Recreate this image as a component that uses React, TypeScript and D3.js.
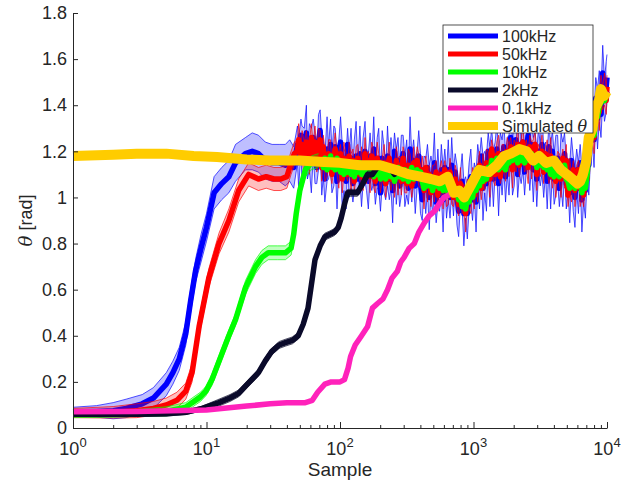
import React, { useEffect, useRef } from 'react';
import * as d3 from 'd3';

// sample positions of the noisy tail, fine grid (100kHz, 50kHz, 10kHz)
const fineX = [
  48, 49, 51, 52, 54, 56, 57, 59, 61, 63,
  65, 67, 69, 71, 73, 75, 77, 80, 82, 85,
  87, 90, 92, 95, 98, 101, 104, 107, 111, 114,
  117, 121, 125, 128, 132, 136, 141, 145, 149, 154,
  158, 163, 168, 173, 179, 184, 190, 195, 201, 207,
  214, 220, 227, 234, 241, 248, 256, 264, 272, 280,
  288, 297, 306, 316, 325, 335, 345, 356, 366, 378,
  389, 401, 413, 426, 439, 452, 466, 480, 494, 509,
  525, 541, 557, 574, 592, 610, 628, 647, 667, 687,
  708, 729, 752, 774, 798, 822, 847, 873, 899, 927,
  955, 984, 1014, 1045, 1076, 1109, 1143, 1178, 1213, 1250,
  1288, 1327, 1368, 1409, 1452, 1496, 1542, 1589, 1637, 1687,
  1738, 1791, 1845, 1901, 1959, 2018, 2080, 2143, 2208, 2275,
  2344, 2415, 2489, 2565, 2642, 2723, 2805, 2891, 2979, 3069,
  3162, 3258, 3357, 3459, 3565, 3673, 3784, 3899, 4018, 4140,
  4266, 4395, 4529, 4667, 4808, 4955, 5105, 5260, 5420, 5585,
  5754, 5929, 6110, 6295, 6486, 6683, 6887, 7096, 7311, 7534,
  7762, 7998, 8241, 8492, 8750, 9016, 9290, 9572, 9863, 10000,
];

// coarser grid for the slow series once they join the bundle (2kHz, 0.1kHz)
const coarseX = [
  48, 51, 54, 57, 61, 65, 69, 73, 77, 82,
  87, 92, 98, 104, 111, 117, 125, 132, 141, 149,
  158, 168, 179, 190, 201, 214, 227, 241, 256, 272,
  288, 306, 325, 345, 366, 389, 413, 439, 466, 494,
  525, 557, 592, 628, 667, 708, 752, 798, 847, 899,
  955, 1014, 1076, 1143, 1213, 1288, 1368, 1452, 1542, 1637,
  1738, 1845, 1959, 2080, 2208, 2344, 2489, 2642, 2805, 2979,
  3162, 3357, 3565, 3784, 4018, 4266, 4529, 4808, 5105, 5420,
  5754, 6109, 6486, 6887, 7311, 7762, 8241, 8750, 9290, 9863,
  10000,
];

// 100kHz
const blueX = [1, 1.5, 2, 2.5, 3.3, 4, 5, 5.6, 6.25, 7, 7.6, 8.3, 9.1, 10, 11.4, 13, 14.7, 16.5, 19.6, 22, 24.5, 27.6, 31, 35, 39, 42, 45];
const blueY = [0.07, 0.072, 0.075, 0.085, 0.105, 0.13, 0.19, 0.24, 0.3, 0.41, 0.55, 0.685, 0.78, 0.87, 1.02, 1.06, 1.09, 1.15, 1.19, 1.2, 1.19, 1.16, 1.15, 1.15, 1.14, 1.16, 1.13];
const blueErr = [0.02, 0.025, 0.035, 0.04, 0.04, 0.045, 0.05, 0.05, 0.05, 0.05, 0.05, 0.05, 0.06, 0.06, 0.07, 0.07, 0.07, 0.08, 0.07, 0.08, 0.08, 0.08, 0.08, 0.08, 0.09, 0.09, 0.09];
const blueNoiseY = [
  1.23, 1.15, 1.27, 1.18, 1.21, 1.28, 1.14, 1.22, 1.16, 1.26,
  1.17, 1.13, 1.24, 1.29, 1.14, 1.17, 1.08, 1.21, 1.15, 1.23,
  1.11, 1.18, 1.22, 1.07, 1.19, 1.24, 1.09, 1.12, 1.07, 1.23,
  1.1, 1.17, 1.06, 1.14, 1.18, 1.08, 1.19, 1.05, 1.16, 1.2,
  1.11, 1.07, 1.18, 1.1, 1.21, 1.06, 1.15, 1.17, 1.02, 1.17,
  1.12, 1.06, 1.18, 1.08, 1.15, 1.03, 1.2, 1.09, 1.16, 1.05,
  1.14, 1.19, 1.07, 1.13, 1.04, 1.21, 1.08, 1.16, 1.05, 1.12,
  1.18, 1.06, 0.99, 1.11, 1.05, 1.13, 1.0, 1.1, 1.03, 1.15,
  0.98, 1.09, 1.01, 1.12, 0.99, 1.13, 1.01, 1.12, 1.0, 1.14,
  1.02, 1.11, 1.01, 0.94, 1.04, 1.07, 0.93, 1.0, 0.93, 1.05,
  1.09, 0.99, 1.08, 0.98, 1.13, 1.06, 1.18, 1.04, 1.11, 1.06,
  1.2, 1.09, 1.2, 1.08, 1.17, 1.21, 1.06, 1.19, 1.13, 1.22,
  1.09, 1.18, 1.14, 1.26, 1.13, 1.19, 1.25, 1.1, 1.23, 1.15,
  1.24, 1.11, 1.2, 1.27, 1.14, 1.23, 1.12, 1.21, 1.08, 1.2,
  1.14, 1.23, 1.11, 1.17, 1.07, 1.22, 1.09, 1.2, 1.08, 1.14,
  1.17, 1.04, 1.16, 1.1, 1.19, 1.06, 1.1, 1.02, 1.16, 1.06,
  1.0, 1.12, 1.04, 1.15, 0.99, 1.08, 1.03, 1.17, 1.14, 1.28,
  1.34, 1.25, 1.43, 1.34, 1.44, 1.36, 1.54, 1.42, 1.48, 1.52,
];
const blueNoiseErr = [
  0.08, 0.11, 0.07, 0.13, 0.09, 0.12, 0.06, 0.1, 0.14, 0.08,
  0.11, 0.07, 0.12, 0.09, 0.13, 0.08, 0.1, 0.14, 0.07, 0.11,
  0.09, 0.13, 0.08, 0.12, 0.06, 0.11, 0.14, 0.09, 0.12, 0.07,
  0.1, 0.13, 0.08, 0.11, 0.15, 0.07, 0.12, 0.09, 0.1, 0.13,
  0.08, 0.12, 0.1, 0.07, 0.14, 0.09, 0.11, 0.13, 0.08, 0.12,
  0.1, 0.07, 0.13, 0.09, 0.11, 0.14, 0.08, 0.12, 0.1, 0.09,
  0.13, 0.08, 0.11, 0.12, 0.07, 0.14, 0.1, 0.09, 0.12, 0.08,
  0.11, 0.13, 0.09, 0.07, 0.12, 0.1, 0.14, 0.08, 0.11, 0.13,
  0.09, 0.12, 0.07, 0.11, 0.14, 0.08, 0.1, 0.13, 0.09, 0.12,
  0.1, 0.08, 0.13, 0.11, 0.07, 0.12, 0.14, 0.09, 0.11, 0.1,
  0.12, 0.09, 0.07, 0.13, 0.1, 0.11, 0.08, 0.14, 0.09, 0.12,
  0.08, 0.13, 0.1, 0.12, 0.07, 0.11, 0.14, 0.09, 0.12, 0.1,
  0.11, 0.08, 0.13, 0.09, 0.12, 0.14, 0.07, 0.1, 0.13, 0.09,
  0.12, 0.1, 0.08, 0.13, 0.11, 0.09, 0.14, 0.08, 0.12, 0.1,
  0.09, 0.13, 0.11, 0.07, 0.12, 0.1, 0.14, 0.09, 0.11, 0.13,
  0.1, 0.08, 0.12, 0.14, 0.09, 0.11, 0.07, 0.13, 0.1, 0.12,
  0.13, 0.09, 0.11, 0.08, 0.14, 0.1, 0.12, 0.09, 0.13, 0.11,
  0.1, 0.12, 0.09, 0.13, 0.11, 0.1, 0.12, 0.09, 0.11, 0.1,
];

// 50kHz
const redX = [1, 2, 3, 4, 5, 6, 7, 7.8, 8.8, 10.4, 12.4, 14.7, 17.4, 20.7, 24.5, 28, 32, 36, 40, 43, 45.5];
const redY = [0.065, 0.068, 0.075, 0.085, 0.1, 0.12, 0.16, 0.24, 0.44, 0.65, 0.8, 0.9, 1.03, 1.1, 1.08, 1.09, 1.08, 1.08, 1.09, 1.15, 1.19];
const redErr = [0.02, 0.025, 0.03, 0.03, 0.03, 0.035, 0.035, 0.04, 0.04, 0.04, 0.045, 0.05, 0.05, 0.05, 0.05, 0.05, 0.05, 0.05, 0.05, 0.05, 0.05];
const redNoiseY = [
  1.2, 1.25, 1.18, 1.23, 1.16, 1.24, 1.22, 1.17, 1.26, 1.19,
  1.24, 1.16, 1.22, 1.25, 1.13, 1.22, 1.14, 1.12, 1.19, 1.17,
  1.1, 1.18, 1.21, 1.15, 1.12, 1.19, 1.08, 1.17, 1.14, 1.1,
  1.18, 1.11, 1.16, 1.07, 1.15, 1.17, 1.1, 1.14, 1.08, 1.19,
  1.11, 1.16, 1.09, 1.18, 1.12, 1.07, 1.17, 1.15, 1.08, 1.12,
  1.15, 1.06, 1.13, 1.17, 1.08, 1.12, 1.07, 1.16, 1.09, 1.14,
  1.07, 1.17, 1.1, 1.06, 1.14, 1.13, 1.05, 1.15, 1.09, 1.16,
  1.12, 1.08, 1.12, 1.03, 1.13, 1.05, 1.1, 1.02, 1.09, 1.06,
  1.11, 1.01, 1.09, 1.1, 1.03, 1.12, 1.03, 1.02, 1.11, 1.04,
  1.0, 1.08, 1.03, 0.97, 1.06, 0.96, 1.0, 0.93, 1.03, 1.01,
  1.0, 1.08, 1.01, 1.09, 1.06, 1.14, 1.04, 1.12, 1.07, 1.15,
  1.14, 1.08, 1.21, 1.14, 1.1, 1.18, 1.19, 1.09, 1.16, 1.18,
  1.12, 1.2, 1.16, 1.22, 1.12, 1.2, 1.17, 1.23, 1.14, 1.21,
  1.24, 1.15, 1.19, 1.13, 1.22, 1.16, 1.21, 1.23, 1.1, 1.18,
  1.15, 1.2, 1.11, 1.19, 1.18, 1.12, 1.18, 1.09, 1.13, 1.07,
  1.15, 1.13, 1.08, 1.17, 1.1, 1.16, 1.01, 1.09, 1.04, 1.12,
  1.03, 1.09, 1.12, 1.04, 1.06, 1.01, 1.11, 1.08, 1.28, 1.24,
  1.31, 1.26, 1.37, 1.42, 1.37, 1.47, 1.43, 1.47, 1.42, 1.48,
];
const redNoiseErr = [
  0.05, 0.07, 0.04, 0.06, 0.08, 0.05, 0.03, 0.07, 0.06, 0.04,
  0.07, 0.05, 0.08, 0.04, 0.06, 0.05, 0.07, 0.03, 0.06, 0.08,
  0.04, 0.06, 0.07, 0.05, 0.08, 0.04, 0.06, 0.07, 0.05, 0.03,
  0.06, 0.08, 0.05, 0.04, 0.07, 0.06, 0.03, 0.08, 0.05, 0.07,
  0.05, 0.04, 0.07, 0.06, 0.08, 0.05, 0.07, 0.04, 0.06, 0.05,
  0.08, 0.06, 0.04, 0.07, 0.05, 0.03, 0.07, 0.06, 0.08, 0.04,
  0.06, 0.05, 0.08, 0.04, 0.07, 0.06, 0.05, 0.07, 0.03, 0.06,
  0.07, 0.04, 0.06, 0.08, 0.05, 0.07, 0.04, 0.06, 0.05, 0.08,
  0.05, 0.07, 0.03, 0.06, 0.08, 0.04, 0.07, 0.05, 0.06, 0.07,
  0.04, 0.06, 0.08, 0.05, 0.07, 0.03, 0.06, 0.08, 0.05, 0.06,
  0.07, 0.05, 0.06, 0.04, 0.08, 0.06, 0.05, 0.07, 0.04, 0.06,
  0.06, 0.08, 0.04, 0.07, 0.05, 0.06, 0.08, 0.03, 0.07, 0.05,
  0.05, 0.06, 0.07, 0.04, 0.08, 0.05, 0.06, 0.07, 0.05, 0.04,
  0.08, 0.04, 0.06, 0.07, 0.05, 0.08, 0.04, 0.06, 0.07, 0.05,
  0.06, 0.07, 0.05, 0.03, 0.07, 0.06, 0.08, 0.05, 0.04, 0.07,
  0.05, 0.06, 0.08, 0.04, 0.06, 0.07, 0.05, 0.08, 0.06, 0.04,
  0.07, 0.05, 0.04, 0.08, 0.06, 0.05, 0.07, 0.04, 0.08, 0.06,
  0.05, 0.07, 0.06, 0.05, 0.08, 0.06, 0.05, 0.07, 0.06, 0.05,
];

// 10kHz
const greenX = [1, 2, 3, 5, 7, 7.8, 9, 9.9, 11, 13, 14.7, 16.5, 19.6, 23.3, 26, 29, 34, 39, 43, 45, 47, 50, 55, 61, 69];
const greenY = [0.06, 0.062, 0.065, 0.072, 0.09, 0.11, 0.135, 0.16, 0.21, 0.32, 0.4, 0.47, 0.61, 0.7, 0.74, 0.76, 0.76, 0.76, 0.78, 0.84, 0.93, 1.03, 1.12, 1.15, 1.16];
const greenErr = [0.015, 0.015, 0.015, 0.02, 0.02, 0.02, 0.02, 0.02, 0.025, 0.025, 0.025, 0.025, 0.03, 0.03, 0.03, 0.03, 0.03, 0.03, 0.03, 0.03, 0.03, 0.03, 0.03, 0.03, 0.03];
// from fineX[14] onwards
const greenNoiseY = [
  1.16, 1.13, 1.17, 1.12, 1.15, 1.18,
  1.13, 1.16, 1.12, 1.17, 1.14, 1.11, 1.13, 1.1, 1.14, 1.11,
  1.15, 1.1, 1.13, 1.09, 1.14, 1.11, 1.15, 1.1, 1.12, 1.09,
  1.13, 1.1, 1.14, 1.11, 1.09, 1.13, 1.1, 1.14, 1.08, 1.11,
  1.12, 1.08, 1.11, 1.13, 1.09, 1.12, 1.07, 1.1, 1.13, 1.09,
  1.11, 1.08, 1.12, 1.09, 1.07, 1.11, 1.13, 1.08, 1.1, 1.12,
  1.09, 1.11, 1.07, 1.04, 1.08, 1.05, 1.09, 1.06, 1.03, 1.07,
  1.05, 1.08, 1.04, 1.07, 1.03, 1.06, 1.05, 1.02, 1.06, 1.03,
  1.05, 1.02, 1.03, 0.99, 1.01, 0.96, 0.99, 0.95, 1.0, 0.98,
  1.03, 1.0, 1.06, 1.03, 1.08, 1.05, 1.1, 1.07, 1.11, 1.08,
  1.13, 1.1, 1.16, 1.12, 1.15, 1.17, 1.12, 1.16, 1.13, 1.17,
  1.12, 1.16, 1.15, 1.19, 1.16, 1.18, 1.2, 1.15, 1.19, 1.16,
  1.19, 1.15, 1.18, 1.2, 1.16, 1.19, 1.15, 1.18, 1.13, 1.16,
  1.14, 1.17, 1.13, 1.16, 1.12, 1.16, 1.1, 1.13, 1.09, 1.12,
  1.13, 1.09, 1.12, 1.1, 1.14, 1.08, 1.07, 1.04, 1.08, 1.05,
  1.04, 1.07, 1.05, 1.08, 1.02, 1.06, 1.04, 1.1, 1.2, 1.25,
  1.28, 1.27, 1.36, 1.35, 1.4, 1.41, 1.46, 1.42, 1.44, 1.45,
];

// 2kHz
const blackX = [1, 3, 5, 7, 9.3, 12.4, 15, 17.4, 21, 24.5, 27.5, 30.6, 35, 39, 44, 48.6, 53, 57.6, 61, 65, 71, 77, 84, 91, 97, 102, 108, 114, 125, 135, 148, 161, 175];
const blackY = [0.06, 0.06, 0.062, 0.068, 0.085, 0.11, 0.13, 0.15, 0.2, 0.24, 0.29, 0.33, 0.36, 0.37, 0.38, 0.4, 0.45, 0.52, 0.62, 0.73, 0.79, 0.83, 0.84, 0.85, 0.87, 0.91, 0.97, 1.02, 1.02, 1.02, 1.06, 1.1, 1.1];
const blackErr = [0.01, 0.01, 0.01, 0.01, 0.01, 0.015, 0.015, 0.015, 0.015, 0.015, 0.015, 0.015, 0.015, 0.015, 0.015, 0.015, 0.015, 0.015, 0.015, 0.015, 0.015, 0.015, 0.015, 0.015, 0.015, 0.015, 0.015, 0.015, 0.015, 0.015, 0.015, 0.015, 0.015];
// from coarseX[23] onwards, mostly hidden under the simulated curve
const blackNoiseY = [
  1.13, 1.14, 1.13, 1.13, 1.12, 1.1, 1.115,
  1.11, 1.105, 1.1, 1.1, 1.095, 1.09, 1.09, 1.085, 1.08, 1.08,
  1.075, 1.07, 1.08, 1.075, 1.07, 1.025, 1.025, 1.02, 1.0, 1.025,
  1.05, 1.08, 1.11, 1.12, 1.115, 1.11, 1.12, 1.13, 1.15, 1.17,
  1.18, 1.19, 1.195, 1.2, 1.21, 1.205, 1.2, 1.18, 1.16, 1.17,
  1.175, 1.16, 1.15, 1.155, 1.16, 1.14, 1.12, 1.11, 1.1, 1.085,
  1.07, 1.06, 1.08, 1.14, 1.26, 1.3, 1.39, 1.42, 1.46, 1.45,
  1.46,
];

// 0.1kHz
const pinkX = [1, 3, 10, 20, 30, 40, 55, 62, 68, 77, 86, 100, 108, 115, 120, 130, 145, 161, 175, 191, 210, 227, 245, 269, 285, 302, 330, 360, 390, 428, 465, 509, 550, 600, 650, 712];
const pinkY = [0.07, 0.072, 0.078, 0.095, 0.105, 0.11, 0.11, 0.12, 0.155, 0.19, 0.2, 0.2, 0.21, 0.26, 0.31, 0.36, 0.4, 0.44, 0.52, 0.54, 0.56, 0.6, 0.65, 0.68, 0.72, 0.74, 0.78, 0.8, 0.85, 0.89, 0.92, 0.94, 0.97, 1.0, 1.01, 1.02];
// from coarseX[46] onwards, hidden under the simulated curve
const pinkNoiseY = [
  1.025, 1.02, 1.0, 1.025,
  1.05, 1.08, 1.11, 1.12, 1.115, 1.11, 1.12, 1.13, 1.15, 1.17,
  1.18, 1.19, 1.195, 1.2, 1.21, 1.205, 1.2, 1.18, 1.16, 1.17,
  1.175, 1.16, 1.15, 1.155, 1.16, 1.14, 1.12, 1.11, 1.1, 1.085,
  1.07, 1.06, 1.08, 1.14, 1.26, 1.3, 1.39, 1.42, 1.46, 1.45,
  1.46,
];

// Simulated theta
const simX = [1, 2, 3, 5, 8, 12, 20, 30, 50, 70, 100, 140, 200, 260, 330, 400, 480, 560, 640, 712, 780, 850, 950, 1100, 1300, 1500, 1700, 1900, 2200, 2500, 2800, 3100, 3500, 4000, 4500, 5000, 5500, 6000, 6300, 6600, 7000, 7300, 7800, 8200, 8700, 9000, 9500, 10000];
const simY = [1.18, 1.185, 1.19, 1.19, 1.18, 1.175, 1.165, 1.16, 1.16, 1.155, 1.15, 1.14, 1.14, 1.12, 1.1, 1.09, 1.08, 1.07, 1.09, 1.02, 1.03, 1.0, 1.05, 1.12, 1.11, 1.14, 1.18, 1.19, 1.21, 1.2, 1.16, 1.18, 1.15, 1.16, 1.12, 1.1, 1.08, 1.06, 1.07, 1.1, 1.16, 1.26, 1.3, 1.39, 1.42, 1.47, 1.44, 1.46];

const yTicks = [0, 0.2, 0.4, 0.6, 0.8, 1, 1.2, 1.4, 1.6, 1.8];
const yTickLabels = ['0', '0.2', '0.4', '0.6', '0.8', '1', '1.2', '1.4', '1.6', '1.8'];
const xDecades = [1, 10, 100, 1000, 10000];
const xExponents = ['0', '1', '2', '3', '4'];

type Series = { name: string; color: string; width: number; x: number[]; y: number[]; err?: number[] };

const series: Series[] = [
  { name: '100kHz', color: '#0000ff', width: 5.5, x: blueX.concat(fineX), y: blueY.concat(blueNoiseY), err: blueErr.concat(blueNoiseErr) },
  { name: '50kHz', color: '#ff0000', width: 5.5, x: redX.concat(fineX), y: redY.concat(redNoiseY), err: redErr.concat(redNoiseErr) },
  { name: '10kHz', color: '#00ff00', width: 5.5, x: greenX.concat(fineX.slice(14)), y: greenY.concat(greenNoiseY), err: greenErr },
  { name: '2kHz', color: '#0a0a2a', width: 5.5, x: blackX.concat(coarseX.slice(23)), y: blackY.concat(blackNoiseY), err: blackErr },
  { name: '0.1kHz', color: '#ff22bb', width: 5.5, x: pinkX.concat(coarseX.slice(46)), y: pinkY.concat(pinkNoiseY) },
  { name: 'Simulated', color: '#ffcc00', width: 10, x: simX, y: simY },
];

const FONT = "'Liberation Sans', Arial, Helvetica, sans-serif";
const INK = '#262626';

const App = () => {
  const ref = useRef<SVGSVGElement>(null);

  useEffect(() => {
    const width = 635, height = 484;
    const margin = { top: 13, right: 28, bottom: 56, left: 73 };
    const svg = d3.select(ref.current);
    svg.selectAll('*').remove();

    svg.append('rect').attr('width', width).attr('height', height).attr('fill', '#fff');

    const x = d3.scaleLog().domain([1, 1e4]).range([margin.left, width - margin.right]);
    const y = d3.scaleLinear().domain([0, 1.8]).range([height - margin.bottom, margin.top]);

    series.forEach((s) => {
      const pts = s.x
        .map((xv, i) => ({ x: xv, y: s.y[i], e: s.err ? s.err[i] : undefined }))
        .filter((p) => typeof p.y === 'number');
      if (s.err) {
        const band = pts.filter((p) => p.e !== undefined);
        const area = d3.area<any>().x((d) => x(d.x)).y0((d) => y(d.y - d.e)).y1((d) => y(d.y + d.e));
        svg.append('path').attr('d', area(band)).attr('fill', s.color).attr('fill-opacity', 0.25);
        const up = d3.line<any>().x((d) => x(d.x)).y((d) => y(d.y + d.e));
        const lo = d3.line<any>().x((d) => x(d.x)).y((d) => y(d.y - d.e));
        [up, lo].forEach((g) =>
          svg.append('path').attr('d', g(band)).attr('fill', 'none')
            .attr('stroke', s.color).attr('stroke-opacity', 0.75).attr('stroke-width', 0.9));
      }
      const line = d3.line<any>().x((d) => x(d.x)).y((d) => y(d.y));
      svg.append('path').attr('d', line(pts)).attr('fill', 'none')
        .attr('stroke', s.color).attr('stroke-width', s.width)
        .attr('stroke-linejoin', 'round').attr('stroke-linecap', 'butt');
    });

    // x axis
    const minor = x.ticks().filter((t) => !xDecades.includes(t));
    const gx = svg.append('g').attr('transform', `translate(0,${y(0)})`)
      .call(d3.axisBottom(x).tickValues(xDecades).tickSize(-6).tickSizeOuter(0).tickFormat(() => ''));
    svg.append('g').attr('transform', `translate(0,${y(0)})`)
      .call(d3.axisBottom(x).tickValues(minor).tickSize(-3).tickSizeOuter(0).tickFormat(() => ''))
      .call((g) => g.select('.domain').remove())
      .selectAll('line').attr('stroke', INK);
    gx.selectAll('path,line').attr('stroke', INK);

    xDecades.forEach((d, i) => {
      const t = svg.append('text').attr('x', x(d)).attr('y', y(0) + 27)
        .attr('text-anchor', 'middle').attr('font-family', FONT).attr('font-size', 18).attr('fill', INK);
      t.append('tspan').text('10');
      t.append('tspan').attr('dy', -8).attr('font-size', 13).text(xExponents[i]);
    });

    // y axis
    const gy = svg.append('g').attr('transform', `translate(${x(1)},0)`)
      .call(d3.axisLeft(y).tickValues(yTicks).tickSize(-5).tickSizeOuter(0).tickPadding(6)
        .tickFormat((_, i) => yTickLabels[i]));
    gy.selectAll('path,line').attr('stroke', INK);
    gy.selectAll('text').attr('font-family', FONT).attr('font-size', 18).attr('fill', INK);

    // axis titles
    svg.append('text').attr('x', (x(1) + x(1e4)) / 2).attr('y', 476)
      .attr('text-anchor', 'middle').attr('font-family', FONT).attr('font-size', 19).attr('fill', INK)
      .text('Sample');
    const yl = svg.append('text')
      .attr('transform', `translate(32,${(y(0) + y(1.8)) / 2}) rotate(-90)`)
      .attr('text-anchor', 'middle').attr('font-family', FONT).attr('font-size', 18).attr('fill', INK);
    yl.append('tspan').attr('font-style', 'italic').attr('font-family', "'DejaVu Serif', serif").text('θ');
    yl.append('tspan').text(' [rad]');

    // legend
    const lg = svg.append('g').attr('transform', 'translate(443,25)');
    lg.append('rect').attr('width', 150).attr('height', 108).attr('fill', '#fff')
      .attr('stroke', INK).attr('stroke-width', 0.8);
    series.forEach((s, i) => {
      const cy = 11 + i * 18;
      lg.append('line').attr('x1', 5).attr('x2', 55).attr('y1', cy).attr('y2', cy)
        .attr('stroke', s.color).attr('stroke-width', s.width === 10 ? 8 : 5);
      const t = lg.append('text').attr('x', 59).attr('y', cy).attr('dy', '0.35em')
        .attr('font-family', FONT).attr('font-size', 16).attr('fill', INK).text(s.name);
      if (s.name === 'Simulated') {
        t.append('tspan').text(' ');
        t.append('tspan').attr('font-style', 'italic').attr('font-family', "'DejaVu Serif', serif").text('θ');
      }
    });
  }, []);

  return (
    <div className="App">
      <svg ref={ref} width={635} height={484} style={{ position: 'absolute', left: 0, top: 0 }}></svg>
    </div>
  );
};

export default App;
